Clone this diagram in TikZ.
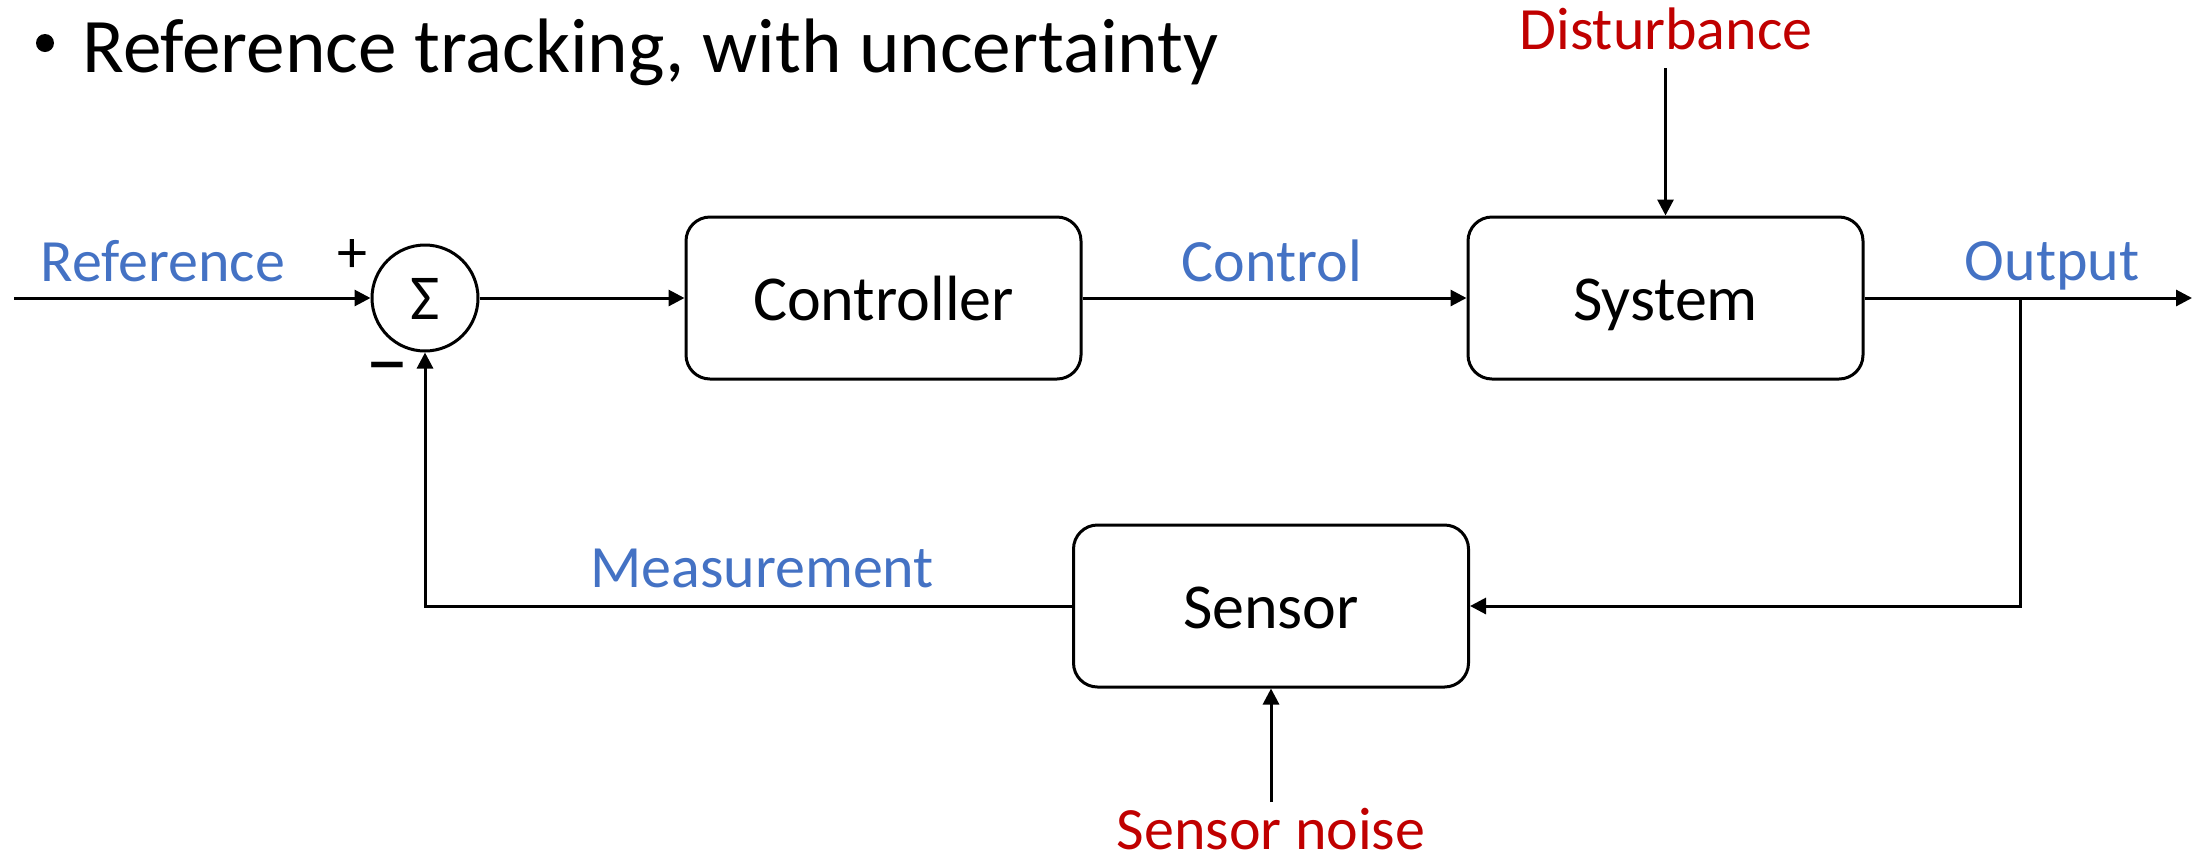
\documentclass[tikz,border=0pt]{standalone}
\usepackage{fontspec}
\setmainfont{Carlito}
\usetikzlibrary{arrows.meta}
\definecolor{lblue}{HTML}{4472C4}
\definecolor{dred}{HTML}{C00000}
\begin{document}
\begin{tikzpicture}[x=0.5pt,y=-0.5pt,
  blk/.style={draw,line width=1.5pt,rounded corners=12pt,minimum width=197.5pt,minimum height=81pt,inner sep=0pt,text height=22pt,text depth=0pt,font=\fontsize{32}{38}\selectfont},
  lab/.style={anchor=base,inner sep=0pt,font=\fontsize{30}{36}\selectfont},
  conn/.style={line width=1.5pt,-{Triangle[length=8pt,width=8pt]}}]
\useasboundingbox (0,0) rectangle (2198,863);
\node[circle,fill,minimum size=9pt,inner sep=0pt] (bul) at (45,43) {};
\node[anchor=base west,inner sep=0pt,font=\fontsize{38.6}{46}\selectfont] (title) at (82,72) {Reference tracking, with uncertainty};
\node[draw,circle,line width=1.5pt,minimum size=53pt,inner sep=0pt,text height=21pt,text depth=0pt,font=\fontsize{32}{38}\selectfont] (sum) at (425,298) {Σ};
\node[blk] (ctrl) at (883.5,298) {Controller};
\node[blk] (sys) at (1665.5,298) {System};
\node[blk] (sens) at (1271,606) {Sensor};
\coordinate (in) at (14,298);
\coordinate (out) at (2192,298);
\coordinate (br) at (2020,298);
\coordinate (dist) at (1665.5,68);
\coordinate (noise) at (1271,802);
\draw[conn] (in) -- (sum);
\draw[conn] (sum) -- (ctrl);
\draw[conn] (ctrl) -- (sys);
\draw[conn] (sys) -- (out);
\draw[conn] (br) |- (sens);
\draw[conn] (sens) -| (sum);
\draw[conn] (dist) -- (sys);
\draw[conn] (noise) -- (sens);
\node[lab,text=lblue] (lref) at (163,281) {Reference};
\node[lab,text=lblue] (lctl) at (1272,281) {Control};
\node[lab,text=lblue] (lout) at (2052,280) {Output};
\node[lab,text=lblue] (lmeas) at (762,587) {Measurement};
\node[lab,text=dred] (ldist) at (1666,49) {Disturbance};
\node[lab,text=dred] (lnoise) at (1271,849) {Sensor noise};
\node[inner sep=0pt,font=\fontsize{30}{36}\selectfont] (plus) at (352,256) {+};
\node[inner sep=0pt,font=\fontsize{44}{50}\selectfont] (minus) at (387,376) {–};
\end{tikzpicture}
\end{document}
